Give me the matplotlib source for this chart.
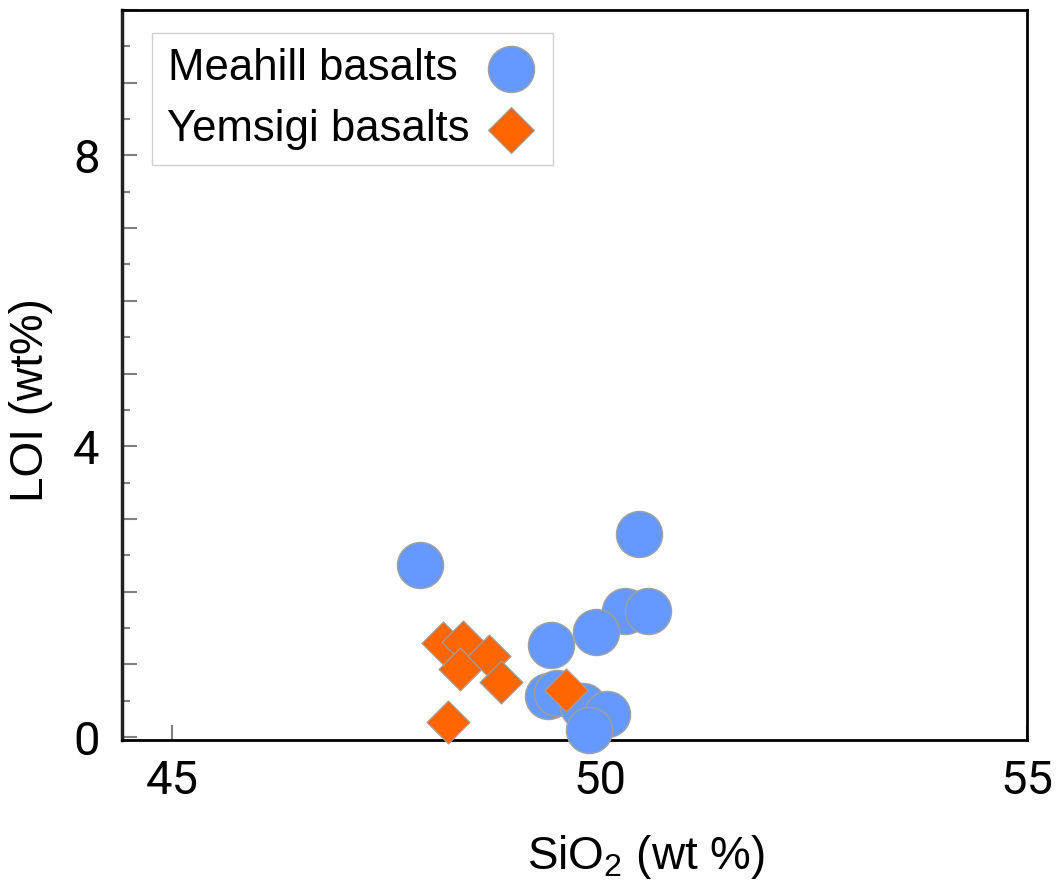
import matplotlib
matplotlib.use("Agg")
import matplotlib.pyplot as plt
from matplotlib.ticker import MultipleLocator, FuncFormatter

# SiO2 vs LOI for the two basalt groups
meahill_sio2 = [47.90, 50.46, 50.30, 50.57, 49.96, 49.43, 49.40, 49.50, 49.81, 50.09, 49.88]
meahill_loi = [2.36, 2.80, 1.73, 1.73, 1.45, 1.27, 0.56, 0.61, 0.43, 0.32, 0.10]

yemsigi_sio2 = [48.17, 48.40, 48.37, 48.70, 48.85, 48.22, 49.61]
yemsigi_loi = [1.30, 1.31, 0.93, 1.11, 0.76, 0.21, 0.65]

x_ticks = [45, 50, 55]
y_labelled = [0, 4, 8]

plt.rcParams['font.family'] = ['Liberation Sans', 'DejaVu Sans']
plt.rcParams['mathtext.fontset'] = 'custom'
plt.rcParams['mathtext.rm'] = 'Liberation Sans'

fig = plt.figure(figsize=(10.58, 8.92), dpi=100)
ax = fig.add_axes([122/1058, 1 - 740/892, 905/1058, 730/892])

# -----------------------------------
# points
# -----------------------------------
ax.scatter(meahill_sio2, meahill_loi, s=1100, marker='o', color='#6699ff',
           edgecolor='#a0a0a0', linewidth=1, label='Meahill basalts ',
           clip_on=False, zorder=3)
ax.scatter(yemsigi_sio2, yemsigi_loi, s=480, marker='D', color='#ff6600',
           edgecolor='#a0a0a0', linewidth=0.8, label='Yemsigi basalts',
           clip_on=False, zorder=4)

ax.set_xlim(44.41, 55.0)
ax.set_ylim(-0.04, 10)

# -----------------------------------
# ticks
# -----------------------------------
ax.set_xticks(x_ticks)
ax.yaxis.set_major_locator(MultipleLocator(1))
ax.yaxis.set_minor_locator(MultipleLocator(0.5))
ax.yaxis.set_major_formatter(
    FuncFormatter(lambda v, p: f"{int(round(v))}" if int(round(v)) in y_labelled else ""))

ax.tick_params(axis='both', which='major', direction='in', length=11, width=1.5,
               color='#808080', labelsize=34, labelfontfamily='Roboto')
ax.tick_params(axis='y', which='minor', direction='in', length=6, width=1.5,
               color='#808080')
ax.tick_params(axis='y', which='major', pad=16)
ax.tick_params(axis='x', which='major', pad=14)

for side in ['left', 'right', 'top', 'bottom']:
    ax.spines[side].set_linewidth(2)
    ax.spines[side].set_color('black')
ax.spines['left'].set_linewidth(2.5)
ax.spines['left'].set_color('#222222')

# -----------------------------------
# labels
# -----------------------------------
ax.set_xlabel(r"SiO$_\mathregular{2}$ (wt %)", fontsize=33)
ax.xaxis.set_label_coords(0.579, -0.127)
ax.set_ylabel("LOI (wt%)", fontsize=33)
ax.yaxis.set_label_coords(-0.076, 0.466)

# -----------------------------------
# legend
# -----------------------------------
leg = ax.legend(loc='upper left', bbox_to_anchor=(0.0331, 0.9685), borderaxespad=0,
                fontsize=31.5, markerfirst=False, frameon=True, fancybox=False,
                framealpha=1, edgecolor='#d0d0d0', handletextpad=0.35,
                borderpad=0.35, labelspacing=0.45, handlelength=1.2,
                scatterpoints=1)
leg.get_frame().set_linewidth(1)
leg.legend_handles[1].set_sizes([550])

fig.savefig("out.png", dpi=100)
plt.close(fig)
print("out.png saved!")
